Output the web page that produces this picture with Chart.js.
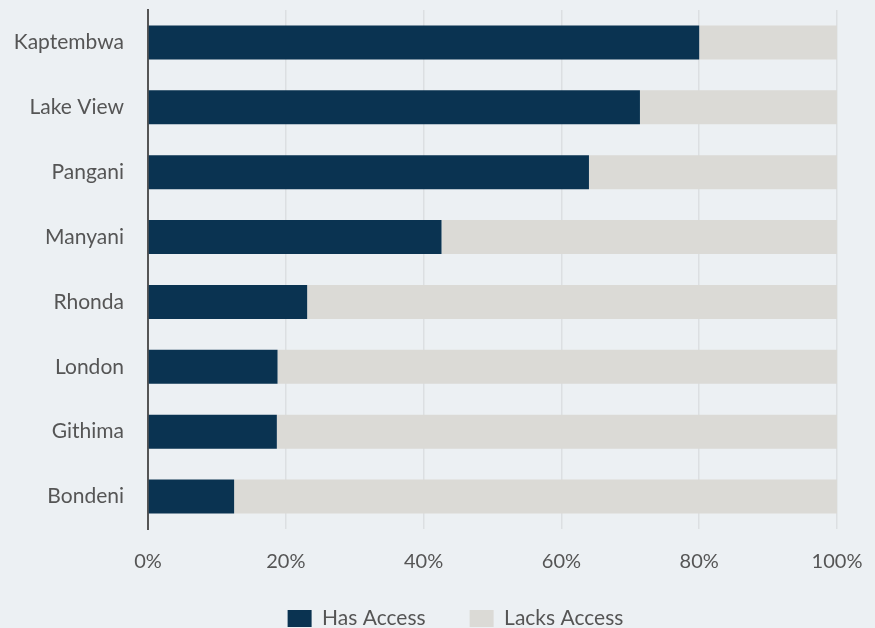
<!DOCTYPE html>
<html>
<head>
<meta charset="utf-8">
<script src="https://cdn.jsdelivr.net/npm/chart.js@4.4.1/dist/chart.umd.min.js"></script>
<style>
  html, body { margin: 0; padding: 0; background: #ecf0f3; overflow: hidden; }
  #wrap { width: 875px; height: 654px; position: relative; }
</style>
</head>
<body>
<div id="wrap"><canvas id="c"></canvas></div>
<script>
const categories = ["Kaptembwa", "Lake View", "Pangani", "Manyani", "Rhonda", "London", "Githima", "Bondeni"];
const hasAccess = [80, 71.4, 64, 42.6, 23.1, 18.8, 18.7, 12.5];
const lacksAccess = hasAccess.map(v => 100 - v);
const seriesNames = ["Has Access", "Lacks Access"];
const xTicks = [0, 20, 40, 60, 80, 100];

const FONT = "Lato, 'Open Sans', sans-serif";
const LEGEND_SHIFT_X = 37;
const LEGEND_SHIFT_Y = -15;

const shiftLegend = {
  id: 'shiftLegend',
  afterLayout(chart) {
    if (chart.legend) {
      chart.legend.left += LEGEND_SHIFT_X;
      chart.legend.right += LEGEND_SHIFT_X;
      chart.legend.top += LEGEND_SHIFT_Y;
      chart.legend.bottom += LEGEND_SHIFT_Y;
    }
  }
};

new Chart(document.getElementById('c'), {
  type: 'bar',
  data: {
    labels: categories,
    datasets: [
      { label: seriesNames[0], data: hasAccess, backgroundColor: '#0a3351', borderWidth: 0 },
      { label: seriesNames[1], data: lacksAccess, backgroundColor: '#dbdad6', borderWidth: 0 }
    ]
  },
  plugins: [shiftLegend],
  options: {
    indexAxis: 'y',
    responsive: true,
    maintainAspectRatio: false,
    animation: false,
    layout: { padding: { top: 10, right: 38, left: 0, bottom: 0 } },
    datasets: { bar: { categoryPercentage: 1, barPercentage: 0.523 } },
    scales: {
      x: {
        stacked: true,
        min: 0, max: 100,
        afterBuildTicks: (s) => { s.ticks = xTicks.map(v => ({ value: v })); },
        grid: {
          color: (ctx) => ctx.tick && ctx.tick.value === 0 ? 'rgba(0,0,0,0)' : '#dcdfe2',
          lineWidth: 1.5,
          drawTicks: false
        },
        border: { display: false },
        ticks: {
          padding: 21,
          color: '#555555',
          font: { family: FONT, size: 20 },
          callback: (v) => v + '%'
        },
        afterFit: (s) => { s.height = 50; s.paddingLeft = 0; s.paddingRight = 0; }
      },
      y: {
        stacked: true,
        grid: { display: false, drawTicks: false },
        border: { display: true, color: '#555555', width: 2 },
        ticks: {
          padding: 24,
          color: '#555555',
          font: { family: FONT, size: 21 }
        },
        afterFit: (s) => { s.width = 148; s.paddingTop = 0; s.paddingBottom = 0; }
      }
    },
    plugins: {
      legend: {
        position: 'bottom',
        labels: {
          boxWidth: 24,
          boxHeight: 17,
          padding: 44,
          color: '#555555',
          font: { family: FONT, size: 21 }
        }
      },
      tooltip: { enabled: false }
    }
  }
});
</script>
</body>
</html>
